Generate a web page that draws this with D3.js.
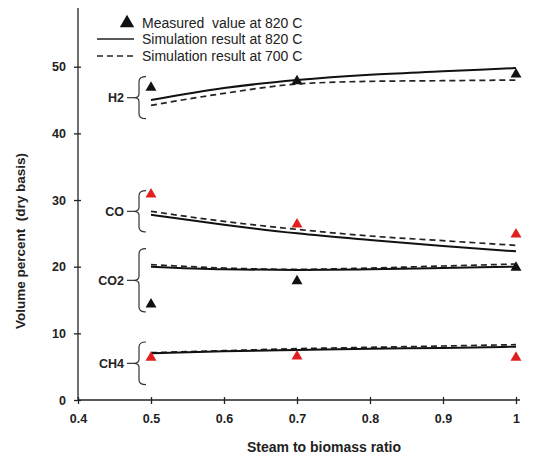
<!DOCTYPE html>
<html>
<head>
<meta charset="utf-8">
<script src="https://cdn.jsdelivr.net/npm/d3@7"></script>
<style>
  body { margin: 0; background: #fff; }
  text { font-family: Arial, "Liberation Sans", sans-serif; white-space: pre; }
</style>
</head>
<body>
<div id="chart"></div>
<script>
// x positions of the simulation curves and of the measurements
var simRatio = [0.5, 0.6, 0.7, 0.8, 0.9, 1.0];
var measRatio = [0.5, 0.7, 1.0];

// simulation at 820 C (solid)
var h2_820 = [45.0, 46.8, 48.0, 48.8, 49.3, 49.8];
var co_820 = [27.8, 26.3, 25.0, 24.0, 23.1, 22.3];
var co2_820 = [20.0, 19.6, 19.5, 19.6, 19.8, 20.0];
var ch4_820 = [7.0, 7.3, 7.5, 7.7, 7.8, 8.0];

// simulation at 700 C (dashed)
var h2_700 = [44.2, 46.0, 47.4, 47.8, 47.9, 48.0];
var co_700 = [28.3, 26.8, 25.6, 24.6, 23.9, 23.2];
var co2_700 = [20.3, 19.8, 19.6, 19.8, 20.1, 20.4];
var ch4_700 = [7.1, 7.4, 7.7, 7.9, 8.1, 8.3];

// measured at 820 C
var h2_meas = [47.0, 48.0, 49.0];
var co_meas = [31.0, 26.5, 25.0];
var co2_meas = [14.5, 18.0, 20.0];
var ch4_meas = [6.5, 6.7, 6.5];

var gases = ["H2", "CO", "CO2", "CH4"];
var braceTop = [48.5, 31.4, 22.7, 8.7];
var braceBottom = [42.2, 25.2, 13.2, 2.3];

var xTicks = [0.4, 0.5, 0.6, 0.7, 0.8, 0.9, 1];
var yTicks = [0, 10, 20, 30, 40, 50];

var width = 533, height = 458;
var svg = d3.select("#chart").append("svg")
  .attr("width", width)
  .attr("height", height);

var x = d3.scaleLinear().domain([0.4, 1.0]).range([78, 516]);
var y = d3.scaleLinear().domain([0, 50]).range([400, 66.7]);

// axes
var xAxis = svg.append("g")
  .attr("transform", "translate(0," + y(0) + ")")
  .call(d3.axisBottom(x).tickValues(xTicks).tickSize(4).tickSizeOuter(0)
    .tickFormat(function(d) { return d === 1 ? "1" : d3.format(".1f")(d); }));
xAxis.select(".domain").attr("d", "M" + x(0.4) + ",0H520");
xAxis.selectAll(".tick line").attr("y1", -3).attr("y2", 4);
xAxis.selectAll("text").attr("y", 14).attr("dy", "0.71em");

var yAxis = svg.append("g")
  .attr("transform", "translate(" + x(0.4) + ",0)")
  .call(d3.axisLeft(y).tickValues(yTicks).tickSize(4).tickSizeOuter(0));
yAxis.select(".domain").attr("d", "M0," + y(0) + "V8");
yAxis.selectAll(".tick line").attr("x1", -4).attr("x2", 3);
yAxis.selectAll("text").attr("x", -12);

svg.selectAll(".domain, .tick line").attr("stroke", "#222").attr("stroke-width", 1.3);
svg.selectAll(".tick text")
  .attr("font-size", 12.5).attr("font-weight", "bold").attr("fill", "#222")
  .style("font-family", "Arial, 'Liberation Sans', sans-serif");

// axis titles
svg.append("text")
  .attr("x", 324).attr("y", 452)
  .attr("text-anchor", "middle")
  .attr("font-size", 14).attr("font-weight", "bold").attr("fill", "#222")
  .text("Steam to biomass ratio");

svg.append("text")
  .attr("transform", "translate(25,241) rotate(-90)")
  .attr("text-anchor", "middle")
  .attr("font-size", 13.5).attr("font-weight", "bold").attr("fill", "#222")
  .text("Volume percent  (dry basis)");

// simulation curves
var line = d3.line()
  .x(function(d) { return x(d[0]); })
  .y(function(d) { return y(d[1]); })
  .curve(d3.curveMonotoneX);

function pairs(xs, ys) {
  return xs.map(function(v, i) { return [v, ys[i]]; });
}

[h2_700, co_700, co2_700, ch4_700].forEach(function(s) {
  svg.append("path")
    .datum(pairs(simRatio, s))
    .attr("d", line)
    .attr("fill", "none")
    .attr("stroke", "#222")
    .attr("stroke-width", 1.7)
    .attr("stroke-dasharray", "6,4");
});

[h2_820, co_820, co2_820, ch4_820].forEach(function(s) {
  svg.append("path")
    .datum(pairs(simRatio, s))
    .attr("d", line)
    .attr("fill", "none")
    .attr("stroke", "#111")
    .attr("stroke-width", 2);
});

// measured points
var tri = d3.symbol().type(d3.symbolTriangle).size(52);
var measured = [
  { vals: h2_meas, color: "#111" },
  { vals: co_meas, color: "#e0201f" },
  { vals: co2_meas, color: "#111" },
  { vals: ch4_meas, color: "#e0201f" }
];
measured.forEach(function(m) {
  svg.selectAll(null)
    .data(pairs(measRatio, m.vals))
    .enter().append("path")
    .attr("d", tri)
    .attr("transform", function(d) { return "translate(" + x(d[0]) + "," + (y(d[1]) + 1) + ")"; })
    .attr("fill", m.color);
});

// braces with gas labels
gases.forEach(function(g, i) {
  var y1 = y(braceTop[i]), y2 = y(braceBottom[i]);
  var ym = (y1 + y2) / 2;
  var tip = 134, spine = 139, end = 146;
  svg.append("path")
    .attr("d", "M" + end + "," + y1 +
      "Q" + spine + "," + y1 + " " + spine + "," + (y1 + 5) +
      "L" + spine + "," + (ym - 4) +
      "Q" + spine + "," + ym + " " + tip + "," + ym +
      "Q" + spine + "," + ym + " " + spine + "," + (ym + 4) +
      "L" + spine + "," + (y2 - 5) +
      "Q" + spine + "," + y2 + " " + end + "," + y2)
    .attr("fill", "none")
    .attr("stroke", "#333")
    .attr("stroke-width", 1.2);
  svg.append("line")
    .attr("x1", tip - 7).attr("x2", tip)
    .attr("y1", ym).attr("y2", ym)
    .attr("stroke", "#333").attr("stroke-width", 1.2);
  svg.append("text")
    .attr("x", tip - 10).attr("y", ym)
    .attr("dy", "0.35em")
    .attr("text-anchor", "end")
    .attr("font-size", 12.5).attr("font-weight", "bold").attr("fill", "#222")
    .text(g);
});

// legend
var legend = svg.append("g");
legend.append("path")
  .attr("d", d3.symbol().type(d3.symbolTriangle).size(90))
  .attr("transform", "translate(127,23)")
  .attr("fill", "#111");
legend.append("line")
  .attr("x1", 97).attr("x2", 134).attr("y1", 39).attr("y2", 39)
  .attr("stroke", "#222").attr("stroke-width", 1.5);
legend.append("line")
  .attr("x1", 97).attr("x2", 134).attr("y1", 56).attr("y2", 56)
  .attr("stroke", "#222").attr("stroke-width", 1.5)
  .attr("stroke-dasharray", "6,4");
var legendText = ["Measured  value at 820 C", "Simulation result at 820 C", "Simulation result at 700 C"];
legend.selectAll("text")
  .data(legendText)
  .enter().append("text")
  .attr("x", 142)
  .attr("y", function(d, i) { return 27.5 + i * 16.5; })
  .attr("font-size", 14).attr("fill", "#222")
  .text(function(d) { return d; });
</script>
</body>
</html>
